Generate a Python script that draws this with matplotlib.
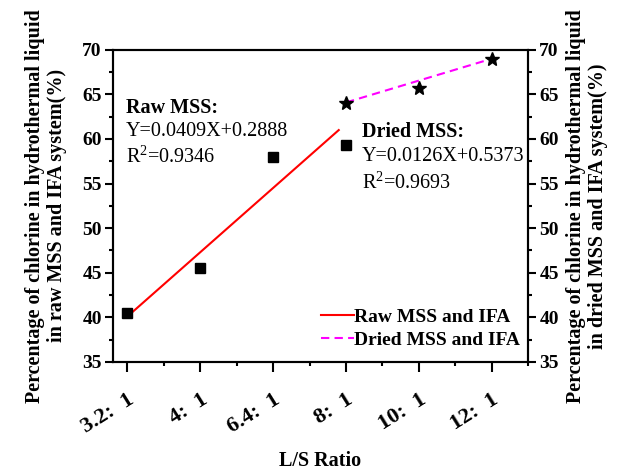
import matplotlib
matplotlib.use("Agg")
import matplotlib.pyplot as plt
from matplotlib.ticker import MultipleLocator

plt.rcParams["font.family"] = ["Liberation Serif", "DejaVu Serif"]
plt.rcParams["mathtext.fontset"] = "custom"
plt.rcParams["mathtext.rm"] = "Liberation Serif"

ratios = ["3.2:  1", "4:  1", "6.4:  1", "8:  1", "10:  1", "12:  1"]
raw_pos = [0, 1, 2, 3]
raw_vals = [40.5, 45.5, 58.0, 59.3]
dried_pos = [3, 4, 5]
dried_vals = [64.0, 65.7, 69.0]
raw_fit_x = [0, 2.9]
raw_fit_y = [40.1, 61.0]
dried_fit_x = [3, 5]
dried_fit_y = [64.1, 69.0]

fig = plt.figure(figsize=(6.17, 4.70), dpi=100)
ax = fig.add_axes([0.183, 0.23, 0.673, 0.664])
ax2 = ax.twinx()

ax.plot(raw_fit_x, raw_fit_y, color="red", lw=1.5, label="Raw MSS and IFA")
ax.plot(raw_pos, raw_vals, "s", color="black", ms=7, ls="none")
ax2.plot(dried_fit_x, dried_fit_y, color="#ff00ff", lw=1.5, ls=(0, (4, 2.5)),
         label="Dried MSS and IFA")
ax2.plot(dried_pos, dried_vals, "*", color="black", ms=10, ls="none")

for a in (ax, ax2):
    a.set_ylim(35, 70)
    a.yaxis.set_major_locator(MultipleLocator(5))
    a.yaxis.set_minor_locator(MultipleLocator(2.5))
    a.tick_params(which="major", direction="out", length=6, width=1.5, labelsize=14, pad=2)
    a.tick_params(which="minor", direction="out", length=3, width=1.5)
    for s in a.spines.values():
        s.set_linewidth(1.5)
    for lab in a.get_yticklabels():
        lab.set_fontweight("bold")

ax.set_xlim(-0.2, 5.5)
ax.set_xticks(range(len(ratios)))
ax.set_xticklabels(ratios, rotation=32, ha="right", rotation_mode="anchor",
                   fontweight="bold", fontsize=16)
ax.xaxis.set_minor_locator(MultipleLocator(0.5))
ax.tick_params(axis="x", which="major", length=7, pad=13)

ax.set_xlabel("L/S Ratio", fontsize=14.5, fontweight="bold", labelpad=10)
ax.set_ylabel("Percentage of chlorine in hydrothermal liquid\nin raw MSS and IFA system(%)",
              fontsize=14.5, fontweight="bold", labelpad=11, linespacing=1.15)
ax2.set_ylabel("Percentage of chlorine in hydrothermal liquid\nin dried MSS and IFA system(%)",
               fontsize=14.5, fontweight="bold", rotation=90, labelpad=5, linespacing=1.15)

ax.text(0.031, 0.814, "Raw MSS:", transform=ax.transAxes, fontsize=14.5, fontweight="bold", va="center")
ax.text(0.031, 0.738, "Y=0.0409X+0.2888", transform=ax.transAxes, fontsize=14.5, va="center")
ax.text(0.031, 0.658, "R$^2$=0.9346", transform=ax.transAxes, fontsize=14.5, va="center")
ax.text(0.60, 0.738, "Dried MSS:", transform=ax.transAxes, fontsize=14.5, fontweight="bold", va="center")
ax.text(0.60, 0.658, "Y=0.0126X+0.5373", transform=ax.transAxes, fontsize=14.5, va="center")
ax.text(0.60, 0.574, "R$^2$=0.9693", transform=ax.transAxes, fontsize=14.5, va="center")

h1, l1 = ax.get_legend_handles_labels()
h2, l2 = ax2.get_legend_handles_labels()
ax.legend(h1 + h2, l1 + l2, loc="lower right", frameon=False, handlelength=1.7,
          handletextpad=0.0, borderaxespad=0.0, borderpad=0.2, labelspacing=0.25,
          prop={"weight": "bold", "size": 14}, bbox_to_anchor=(0.99, 0.03))

fig.savefig("out.png", dpi=100)
